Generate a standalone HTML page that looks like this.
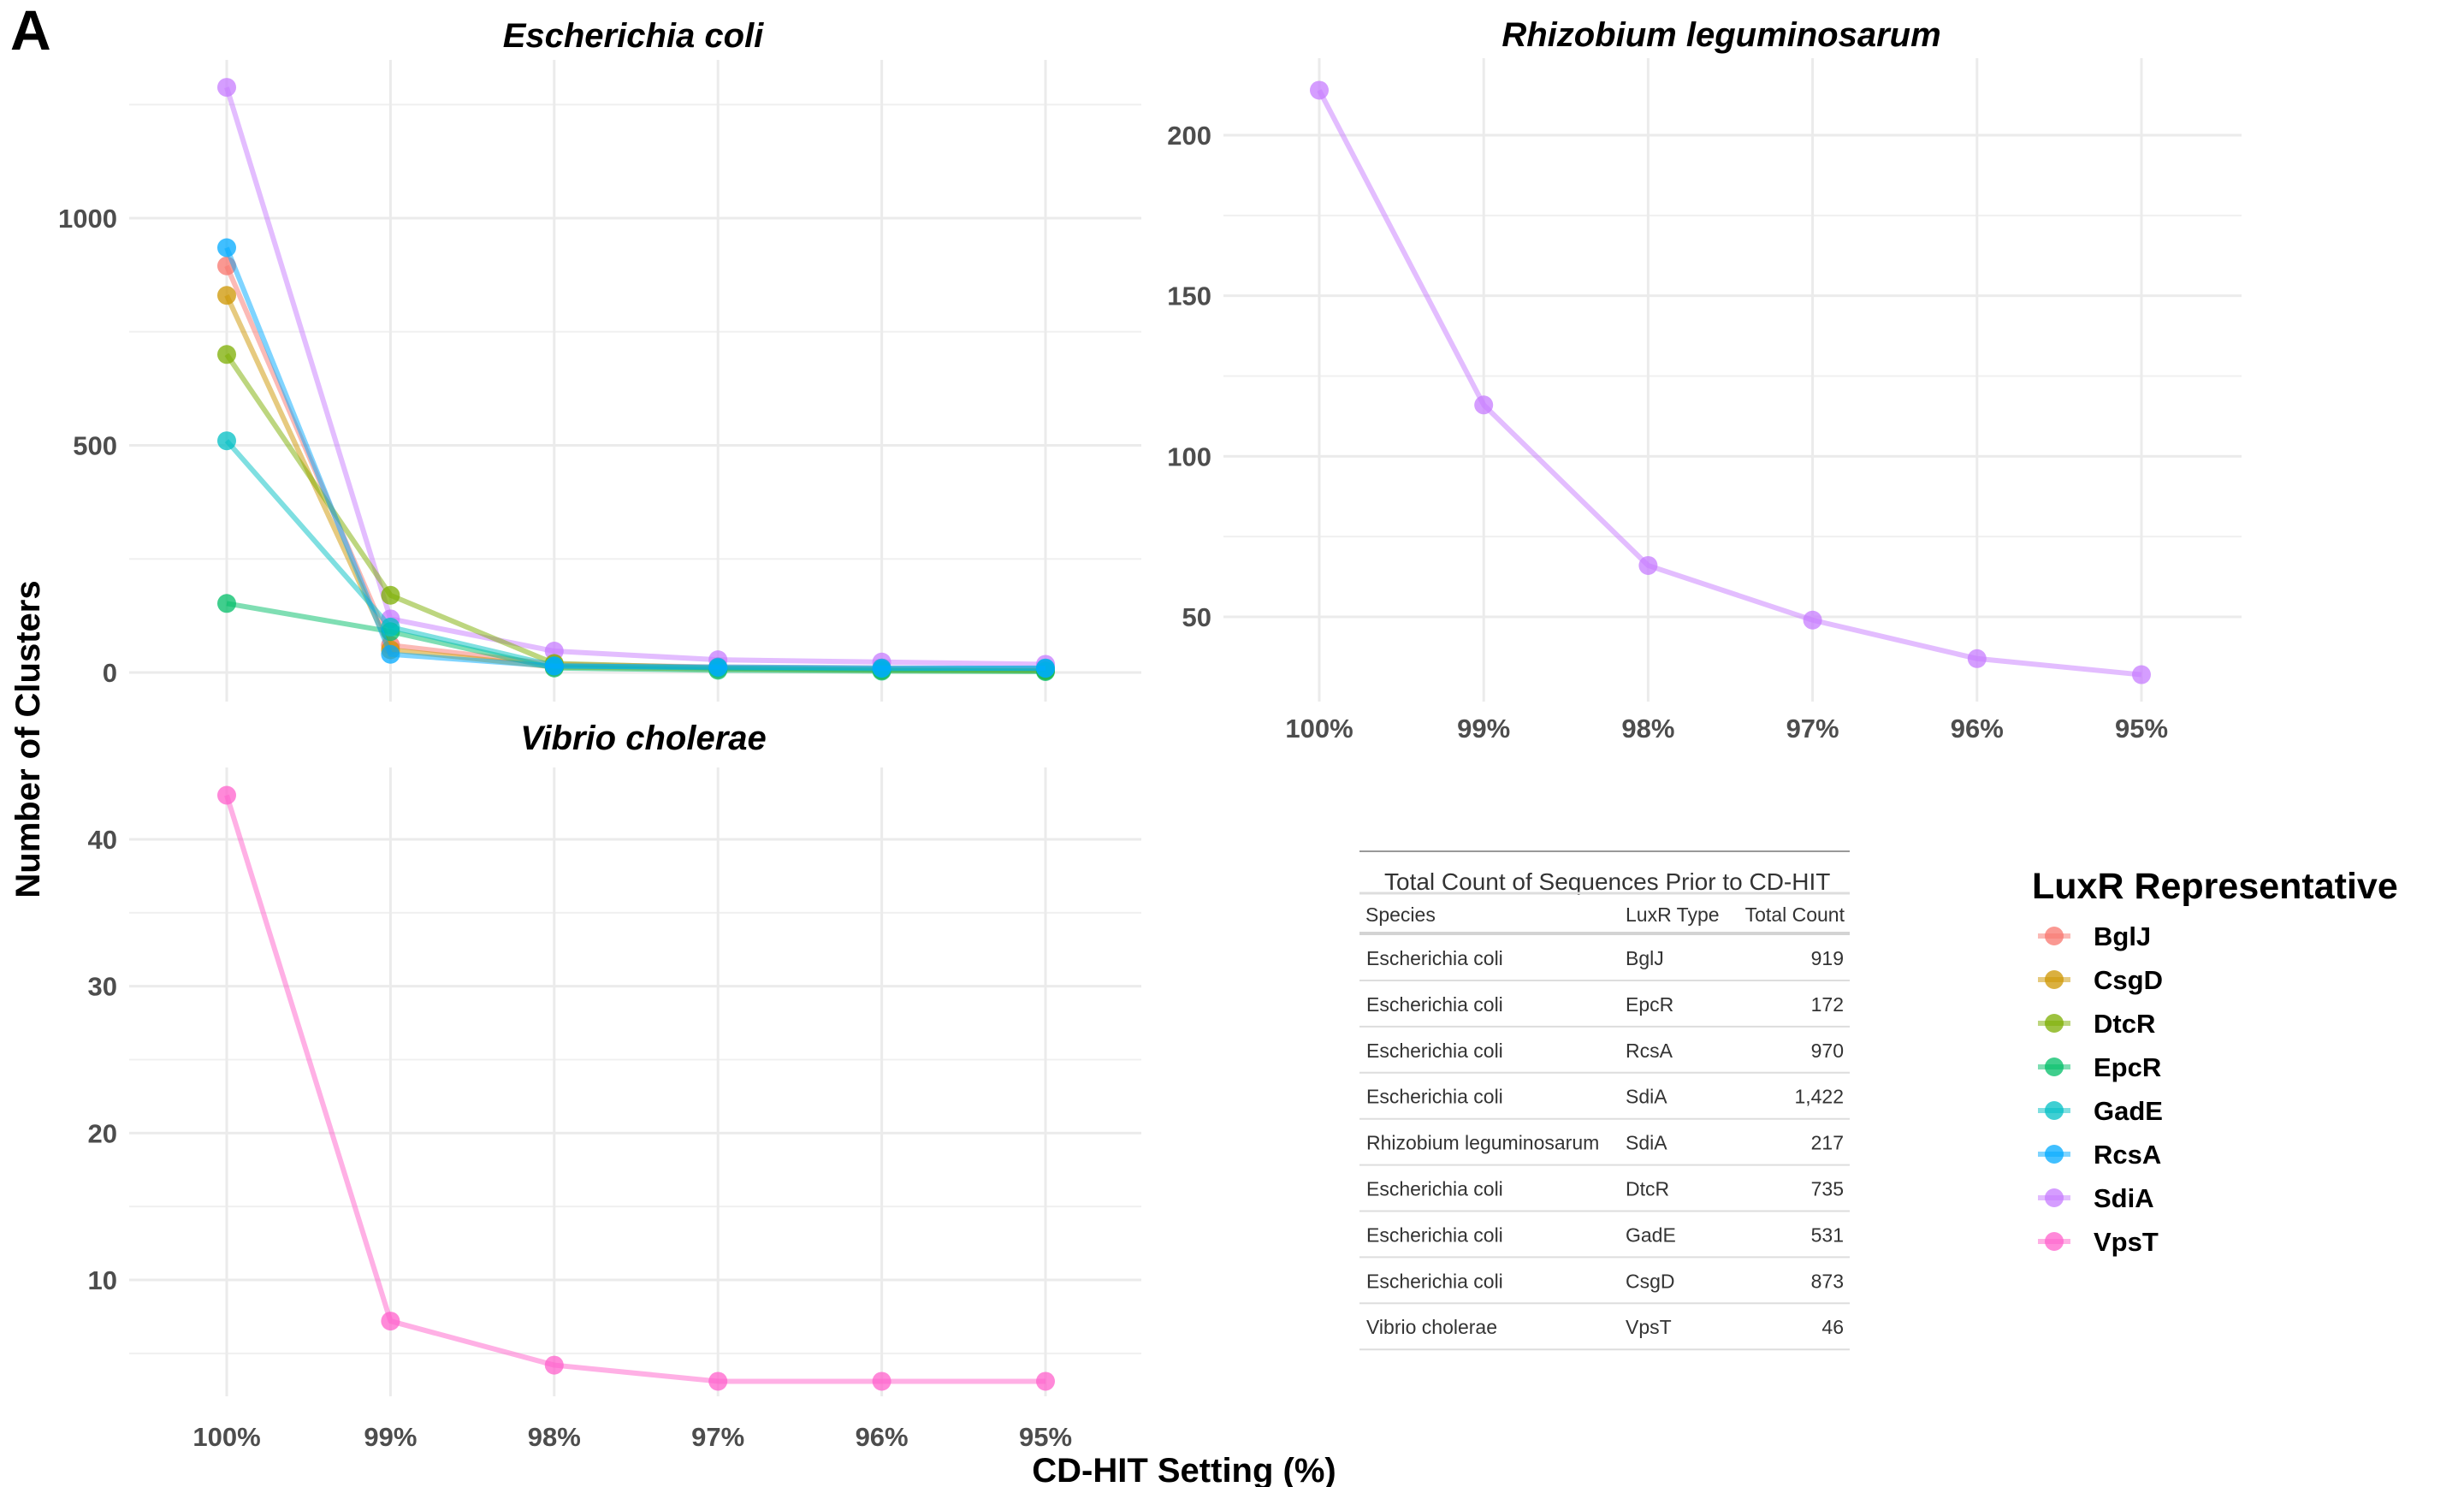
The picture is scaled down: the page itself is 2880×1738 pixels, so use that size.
<!DOCTYPE html>
<html><head><meta charset="utf-8">
<style>
body{margin:0;background:#fff;}
svg{display:block;font-family:"Liberation Sans",sans-serif;}
</style></head>
<body>
<svg id="fig" width="2880" height="1738" viewBox="0 0 2880 1738">
<text x="12" y="58" font-size="66" font-weight="bold">A</text>
<text x="740" y="55" text-anchor="middle" font-size="40" font-weight="bold" font-style="italic">Escherichia coli</text>
<text x="2012" y="54" text-anchor="middle" font-size="40" font-weight="bold" font-style="italic">Rhizobium leguminosarum</text>
<text x="752" y="876" text-anchor="middle" font-size="40" font-weight="bold" font-style="italic">Vibrio cholerae</text>
<text x="1384" y="1732" text-anchor="middle" font-size="40" font-weight="bold">CD-HIT Setting (%)</text>
<text transform="translate(46,864) rotate(-90)" text-anchor="middle" font-size="40" font-weight="bold">Number of Clusters</text>
<g id="ecoli"></g>
<g id="rhizo"></g>
<g id="vibrio"></g>
<g id="legend"></g>
<g id="table"></g>
</svg>
<script>
const settings = ["100%","99%","98%","97%","96%","95%"];
const luxrTypes = ["BglJ","CsgD","DtcR","EpcR","GadE","RcsA","SdiA","VpsT"];
const colors = ["#F8766D","#CD9600","#7CAE00","#00BE67","#00BFC4","#00A9FF","#C77CFF","#FF61CC"];
const ecoliBglJ = [895,60,18,12,10,8];
const ecoliCsgD = [830,50,12,8,5,4];
const ecoliDtcR = [700,170,20,10,6,4];
const ecoliEpcR = [152,90,10,5,3,2];
const ecoliGadE = [510,100,15,10,8,10];
const ecoliRcsA = [935,40,14,12,10,9];
const ecoliSdiA = [1288,118,47,28,23,18];
const rhizoSdiA = [214,116,66,49,37,32];
const vibrioVpsT = [43,7.2,4.2,3.1,3.1,3.1];
const ecoliTicks = [0,500,1000];
const ecoliMinor = [250,750,1250];
const rhizoTicks = [50,100,150,200];
const rhizoMinor = [75,125,175,225];
const vibrioTicks = [10,20,30,40];
const vibrioMinor = [5,15,25,35];
const tableRows = [["Escherichia coli","BglJ","919"],["Escherichia coli","EpcR","172"],["Escherichia coli","RcsA","970"],["Escherichia coli","SdiA","1,422"],["Rhizobium leguminosarum","SdiA","217"],["Escherichia coli","DtcR","735"],["Escherichia coli","GadE","531"],["Escherichia coli","CsgD","873"],["Vibrio cholerae","VpsT","46"]];

const NS="http://www.w3.org/2000/svg";
function mk(parent,tag,attrs,text){const e=document.createElementNS(NS,tag);for(const k in attrs)e.setAttribute(k,attrs[k]);if(text!==undefined)e.textContent=text;parent.appendChild(e);return e;}

function panel(gid,cfg){
  const g=document.getElementById(gid);
  const xs=i=>cfg.x0+(cfg.x1-cfg.x0)*i/(settings.length-1);
  const ys=v=>cfg.yA+(v-cfg.vA)*(cfg.yB-cfg.yA)/(cfg.vB-cfg.vA);
  cfg.minor.forEach(v=>{const y=ys(v);if(y>=cfg.top-2&&y<=cfg.bot){const l=mk(g,'line',{x1:cfg.left,x2:cfg.right,y1:y,y2:y,stroke:'#f0f0f0','stroke-width':2});
  
  }});
  cfg.ticks.forEach(v=>{const y=ys(v);const l=mk(g,'line',{x1:cfg.left,x2:cfg.right,y1:y,y2:y,stroke:'#ebebeb','stroke-width':3});
  
  
  const t=mk(g,'text',{x:cfg.left-14,y:y+11,'text-anchor':'end','font-size':31,'font-weight':'bold',fill:'#4d4d4d'},v);
  
  });
  settings.forEach((s,i)=>{const x=xs(i);const l=mk(g,'line',{x1:x,x2:x,y1:cfg.top,y2:cfg.bot,stroke:'#ebebeb','stroke-width':3});
  
  
  if(cfg.xlab){const t=mk(g,'text',{x:x,y:cfg.xlab,'text-anchor':'middle','font-size':31,'font-weight':'bold',fill:'#4d4d4d'},s);
  
  }});
  cfg.series.forEach(([vals,ci])=>{
    const pts=vals.map((v,i)=>xs(i)+','+ys(v)).join(' ');
    const pl=mk(g,'polyline',{points:pts,fill:'none',stroke:colors[ci],'stroke-width':6,'stroke-opacity':0.5,'stroke-linejoin':'round'});
    
    
    vals.forEach((v,i)=>{const c=mk(g,'circle',{cx:xs(i),cy:ys(v),r:11,fill:colors[ci],'fill-opacity':0.75});
    
    });
  });
}
panel('ecoli',{x0:265,x1:1222,left:151,right:1334,top:70,bot:820,vA:0,yA:786,vB:1000,yB:255,ticks:ecoliTicks,minor:ecoliMinor,xlab:null,
  series:[[ecoliSdiA,6],[ecoliBglJ,0],[ecoliCsgD,1],[ecoliDtcR,2],[ecoliEpcR,3],[ecoliGadE,4],[ecoliRcsA,5]]});
panel('rhizo',{x0:1542,x1:2503,left:1430,right:2620,top:68,bot:820,vA:200,yA:158,vB:50,yB:721,ticks:rhizoTicks,minor:rhizoMinor,xlab:862,
  series:[[rhizoSdiA,6]]});
panel('vibrio',{x0:265,x1:1222,left:151,right:1334,top:897,bot:1632,vA:40,yA:981,vB:10,yB:1496,ticks:vibrioTicks,minor:vibrioMinor,xlab:1690,
  series:[[vibrioVpsT,7]]});

const lg=document.getElementById('legend');
const lt=mk(lg,'text',{x:2375,y:1050,'font-size':43,'font-weight':'bold'},'LuxR Representative');


luxrTypes.forEach((n,i)=>{const y=1094+i*51;
  const ln=mk(lg,'line',{x1:2382,x2:2420,y1:y,y2:y,stroke:colors[i],'stroke-width':6,'stroke-opacity':0.5});
  
  
  const c=mk(lg,'circle',{cx:2401,cy:y,r:11,fill:colors[i],'fill-opacity':0.75});
  
  
  const t=mk(lg,'text',{x:2447,y:y+11,'font-size':31,'font-weight':'bold'},n);
  
  });

const tb=document.getElementById('table');
function hl(y,w,c){const l=mk(tb,'line',{x1:1589,x2:2162,y1:y,y2:y,stroke:c,'stroke-width':w});

}
hl(995,2,'#999');
const tt=mk(tb,'text',{x:1618,y:1040,'font-size':28,fill:'#333'},'Total Count of Sequences Prior to CD-HIT');


hl(1044,3,'#ddd');
[['Species',1596,'start'],['LuxR Type',1900,'start'],['Total Count',2156,'end']].forEach(h=>{
  const t=mk(tb,'text',{x:h[1],y:1077,'font-size':23,fill:'#333','text-anchor':h[2]},h[0]);
  
  });
hl(1091,4,'#d3d3d3');
tableRows.forEach((r,i)=>{const y=1128+i*53.9;
  const a=mk(tb,'text',{x:1597,y:y,'font-size':23,fill:'#333'},r[0]);
  
  
  const b=mk(tb,'text',{x:1900,y:y,'font-size':23,fill:'#333'},r[1]);
  
  
  const c=mk(tb,'text',{x:2155,y:y,'font-size':23,fill:'#333','text-anchor':'end'},r[2]);
  
  
  hl(1146+i*53.9,2,'#ddd');});
</script>
</body></html>
